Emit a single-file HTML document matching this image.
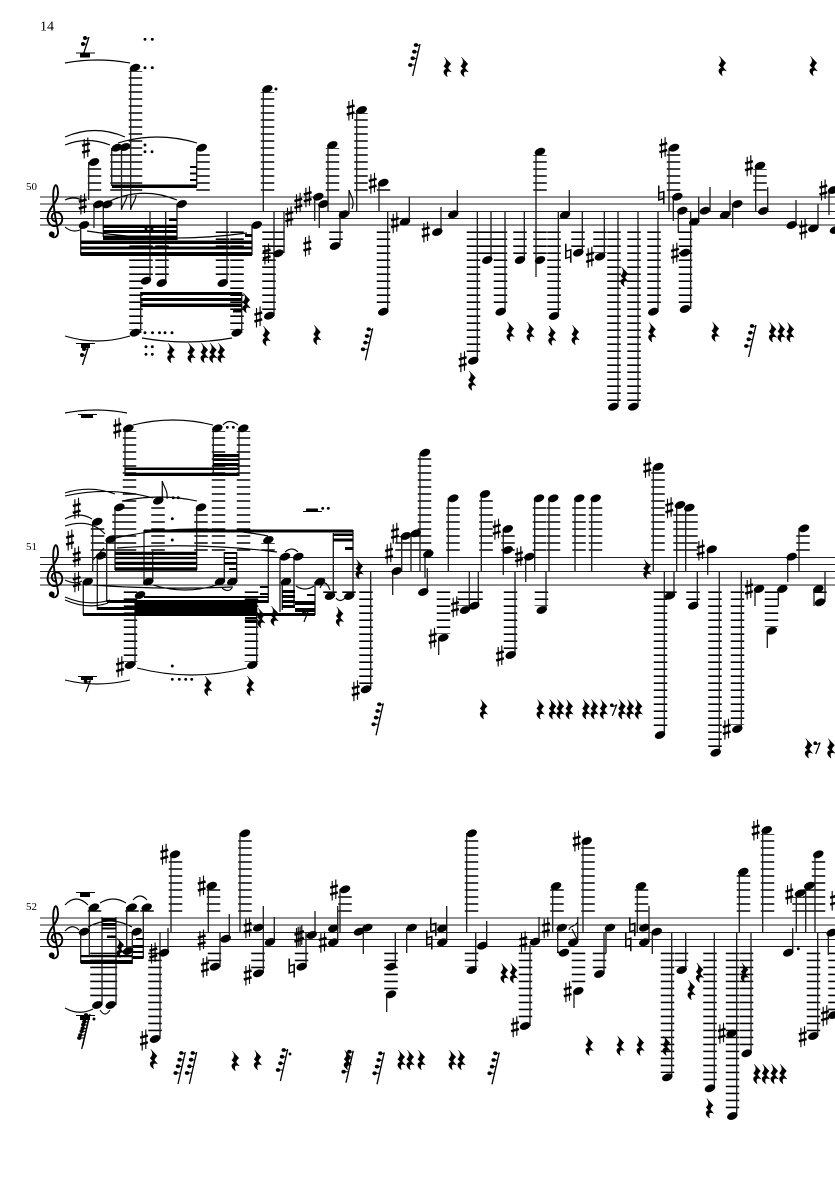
<!DOCTYPE html>
<html><head><meta charset="utf-8"><style>
html,body{margin:0;padding:0;background:#fff}
svg{display:block}
.st{stroke:#222;stroke-width:1.1;fill:none}
.s{stroke:#222;stroke-width:1.35;fill:none}
.l{stroke:#000;stroke-width:13.5;stroke-dasharray:1.6 5.4;fill:none}
.c{stroke:#000;stroke-width:1.15;fill:none}
.b{fill:#000}
.t{font-family:"Liberation Serif",serif;fill:#000}
</style></head><body>
<svg width="835" height="1181" viewBox="0 0 835 1181" xmlns="http://www.w3.org/2000/svg">
<defs>
<ellipse id="n" rx="5.5" ry="3.6" transform="rotate(-22)"/>
<g id="h"><path d="M-1.800 -9V10.500M1.800 -10.500V9" stroke="#000" stroke-width="1.15"/><path d="M-3.900 -2.300L3.900 -4.500M-3.900 4.500L3.900 2.300" stroke="#000" stroke-width="2.5"/></g>
<path id="a" d="M-2.500 -9.500V5L2.500 3.500V-3.500L-2.500 -2M2.500 9.500V-4" stroke="#000" stroke-width="1.5" fill="none"/>
<path id="r" d="M-2.500 -9.800L3.800 -3C1.800 -1 .8 .5 1.300 1.500L4.300 5C1 3.500 -1.500 4.300 .3 9.800C-4.200 6.800 -4.200 2.500 -.5 2.200L-3.200 -1C-1 -3 .5 -5.500 -2.500 -9.800Z" stroke="#000" stroke-width=".5"/>
<g id="q"><path d="M6 -16L-1.300 16" stroke="#000" stroke-width="1.3"/><path d="M2 -15L5.500 -14.500M.3 -8.300L4 -8M-1.300 -1.700L2.500 -1.500M-3.700 5L1 5" stroke="#000" stroke-width="1"/><ellipse cx="2" cy="-15" rx="2.200" ry="1.900"/><ellipse cx=".3" cy="-8.300" rx="2.200" ry="1.900"/><ellipse cx="-1.300" cy="-1.700" rx="2.200" ry="1.900"/><ellipse cx="-3.700" cy="5" rx="2.200" ry="1.900"/></g>
<g id="e"><path d="M3.500 -4.500L-1 7" stroke="#000" stroke-width="1.2"/><circle cx="-1.500" cy="-3.800" r="1.800"/><path d="M-2 -3Q1 -2 3.500 -4.500" stroke="#000" stroke-width="1.1" fill="none"/></g>
<g id="w"><path d="M4 -8L-1.500 9" stroke="#000" stroke-width="1.300"/><circle cx="0" cy="-7" r="2"/><circle cx="-2" cy="-1" r="2"/><path d="M0 -6.500L3.500 -7M-2 -.5L1.500 -1" stroke="#000" stroke-width="1"/></g>
<circle id="d" r="1.450"/>
<g id="c"><path d="M1 3.500C-3.500 3 -4.500 -4.500 1 -5.500C6.500 -6.500 8.500 -1 7.500 3C6 8.500 -1.500 9.500 -4.800 6C-8.500 2 -7 -4.500 -3 -10.500C0 -15 4.500 -20 3.300 -28C2.800 -33 .8 -34.500 -.3 -30.500C-2.500 -24 -1 -12 1 0L3.500 13C4 19 -.5 20.500 -2.500 18.500" stroke="#000" stroke-width="1.9" fill="none"/><circle cx="-2.800" cy="16.300" r="2.900"/></g>
</defs>

<text class="t" x="40" y="30.500" font-size="14">14</text>
<text class="t" x="26" y="190" font-size="11">50</text>
<text class="t" x="26" y="550" font-size="11">51</text>
<text class="t" x="26" y="910" font-size="11">52</text>

<path class="st" d="M40 197H835M40 204H835M40 211.500H835M40 218.500H835M40 225H835M40 557.500H835M40 564.500H835M40 571.500H835M40 578H835M40 585H835M40 918H835M40 925H835M40 932.500H835M40 939.500H835M40 946.500H835"/>
<use href="#c" x="54.500" y="218"/><use href="#c" x="54.500" y="578"/><use href="#c" x="54.500" y="939"/>

<!-- ledger lines -->
<path class="l" d="M135.500 190.800V71M94.500 190.800V165M117 190.800V150M126 190.800V150M203 190.800V150M267.500 190.800V92M332.500 190.800V148M361 190.800V113M383.500 190.800V187M540 190.800V155M673.500 190.800V150M760 190.800V169
M136 231.400V330M146 231.400V277M162 231.400V279M222.500 231.400V279M237 231.400V330M278 231.400V250M269 231.400V312M336 231.400V243M383.500 231.400V308M473.500 231.400V357M487 231.400V256M500.500 231.400V308M520 231.400V256M540 231.400V257M554 231.400V312M578 231.400V250M600 231.400V253M614 231.400V403M634 231.400V403M654 231.400V308M685.500 231.400V305"/>
<path class="l" d="M129.500 550.800V431M158 550.800V503M119 550.800V510M201 550.800V510M218.500 550.800V431M243.500 550.800V431M97.500 550.800V525M110 550.800V543M268 550.800V543M402 550.800V536M414 550.800V536M424.500 550.800V456M453 550.800V502M486 550.800V498M508 550.800V532M539.500 550.800V502M553.500 550.800V502M579 550.800V502M595.500 550.800V502M658 550.800V470M680 550.800V509M691 550.800V511M803 550.800V532
M130.500 591.400V662M251.500 591.400V662M330 591.400V594M349 591.400V594M366 591.400V686M443.500 591.400V634M464.500 591.400V606M476 591.400V602M510.500 591.400V652M541.500 591.400V606M660.500 591.400V731M670 591.400V594M693 591.400V602M715 591.400V749M737.500 591.400V725M771.500 591.400V627M820 591.400V594"/>
<path class="l" d="M94.500 911.800V908M132 911.800V908M147 911.800V908M175.500 911.800V857M213.500 911.800V889M245 911.800V837M345 911.800V893M471.500 911.800V837M557 911.800V889M588 911.800V845M641.500 911.800V889M743.500 911.800V875M767.500 911.800V834M799 911.800V897M809.500 911.800V889M818.500 911.800V857
M97 952.600V1001M110.500 952.600V1001M155 952.600V1035M214.500 952.600V963M258 952.600V970M301.500 952.600V963M391 952.600V990M471.500 952.600V967M525.500 952.600V1022M578.500 952.600V987M599.500 952.600V970M667.500 952.600V1073M681.500 952.600V967M710 952.600V1085M732.500 952.600V1112M746.500 952.600V1050M813.500 952.600V1032M835 952.600V1011"/>

<!-- stems -->
<path class="s" d="M88.700 162V200M80.700 225V255M94 204V228M103.300 204V237M111.700 148V186M121.500 147V210M130.700 68V210M196.700 148V186M177 204V240M252 225V255M150 281V211M165.700 283V211M227 283V211M140.700 333V292M241.700 333V292M263.300 89V211M284 253V211M274 316V211M314.700 197V221M319.300 204V228M328 145V211M340 246V211M349 214V190M356.700 110V211M379 183V211M387.700 312V211M409.300 222V197M441 232V207M457.300 214V190M477.300 361V211M491 260V211M505 312V211M524.300 260V211M536 152V277M558.300 316V211M569.300 215V190M582.300 253V211M604.300 257V211M618 407V211M638 407V211M658 312V211M669 148V211M673.300 197V221M678.300 211V233M698.700 222V197M690.700 309V211M710 211V187M730 215V190M732.700 204V228M755.700 166V211M767.700 211V187M796 225V200M818 228V204M829 190V215"/>
<path class="s" d="M125 428V476M213.300 428V476M239 428V476M162.300 500V481M115 507V570M196.700 507V570M92.700 522V572M106.700 539V602M97.300 556V610M83.300 582V615M144 530V582M152.700 582V551M224.300 582V552M236.700 582V552M135 665V603M256.700 665V603M268.300 540V603M280 557V612M294 557V605M282.300 582V610M315 582V615M333.300 596V533M353 596V530M370.700 689V571M392.700 571V595M401.700 536V571M411 533V571M420 453V571M425 554V578M427.300 592V568M448.300 498V571M438.700 638V655M469.300 610V571M478.300 606V571M481.300 494V571M503.300 529V575M515 655V571M525.700 557V582M534.700 498V571M549 498V571M546 610V571M575 498V571M591.700 498V571M653.300 467V571M664.300 735V571M674 596V571M676.700 505V571M685.700 508V571M697.300 606V571M707.700 549V575M719.300 753V571M741.300 729V571M755 589V606M778.300 589V606M767.300 631V648M787.700 557V582M799 528V571M814 589V606M825 602V572"/>
<path class="s" d="M89.300 907V955M80.700 932V963M126.700 907V955M143.300 907V958M132.300 932V964M102 1005V917M116 1005V917M168 953V928M160 1039V932M171 854V932M208.300 886V932M220 967V932M229.300 939V914M240 833V932M263.300 973V906M274.300 942V917M306 967V932M315 935V911M337.700 942V906M340 889V932M363.300 928V954M395.300 967V932M386.700 994V1012M406.700 928V953M446.700 942V906M466.700 833V932M486.700 946V921M475.700 970V932M539 942V917M530 1026V945M552.700 886V932M557.700 928V953M577.700 942V917M574 991V1008M583 841V932M604 974V932M606 928V953M637.300 886V932M649 942V906M652.300 932V954M671.700 1077V932M685.700 970V932M714.300 1088V932M736.700 1116V932M739.300 872V932M751 1053V932M762.700 830V932M792.700 953V928M796.300 893V932M805.700 886V932M815 854V932M817.700 1036V932M828.300 933V955"/>

<!-- beams -->
<path class="b" d="M112 184.500H197V188H112ZM190 166H197V168H190ZM190 172.500H197V174.500H190ZM190 179H197V181H190ZM103 225H177V228H103ZM103 230H177V233H103ZM103 235.500H177V240H103ZM169 218.500H177V221H169ZM80.700 240.500H252V244H80.700ZM80.700 246.500H252V249.500H80.700ZM80.700 252H252V256H80.700ZM245 234H252V237H245ZM140.700 292H241.700V295H140.700ZM140.700 298H241.700V301H140.700ZM140.700 303.500H241.700V307H140.700ZM233 309H241.700V312.500H233Z"/>
<path class="b" d="M125 467.500H239V470H125ZM125 472.700H239V476H125ZM213 454H239V457H213ZM213 458.500H239V461H213ZM213 463H239V466H213ZM115 551.700H197V555H115ZM115 556.700H197V559.300H115ZM115 561.700H197V565H115ZM115 567.300H197V570.700H115ZM144 529.500H353V532.500H144ZM333 533.500H353V536H333ZM333 538.500H353V541.500H333ZM345 547H353V550H345ZM224 552H237V554H224ZM224 557H237V559H224ZM224 562H237V564H224ZM229 568H237V570H229ZM83 613H315V616H83ZM135 603H257V613H135ZM97 607H135V610H97ZM107 600H268V603H107ZM144 596H268V598H144ZM260 586H268V588H260ZM260 593H268V595H260ZM245 617H257V619H245ZM245 621H257V623H245ZM282 590H295V593H282ZM282 595H295V598H282ZM282 600H295V603H282ZM282 605H295V608H282ZM295 601H315V605H295ZM295 608H315V612H295ZM307 594H315V596H307Z"/>
<path class="b" d="M80.700 955H132.300V957.300H80.700ZM80.700 960H132.300V964H80.700ZM102 918H116V921H102ZM102 923H116V926H102ZM102 927.500H116V929.500H102ZM107 935.500H116V938H107ZM133 945H143.500V948H133ZM133 951H143.500V953H133ZM133 956H143.500V959H133ZM136 938H143.500V940H136ZM557.700 951L564 954L564 956L557.700 953Z"/>

<!-- flags -->
<path class="c" d="M121.500 209C124 202 127 200 127 195M130.700 209C133 202 136 200 136 195M349 190C351 197 355 200 352 209M162.300 481C164 488 168 490 167 499M577.700 922C574 928 570 925 569 930"/>
<path class="c" d="M93 560L104 548M572 929L578 941"/>

<!-- slurs -->
<path class="c" d="M65 63Q97 57 130 63M65 137Q95 124 125 137M65 145Q87 136 110 145M118 143Q157 131 197 143M65 200Q73 196 82 200M65 227Q72 233 80 230M87 231Q167 244 247 233M110 201Q143 186 177 200M65 336Q97 346 130 336M142 338Q187 346 232 338"/>
<path class="c" d="M65 413Q96 407 127 413M133 425Q173 415 213 425M223 425Q229 418 238 425M122 501Q160 493 197 501M117 548Q197 542 277 552M65 496Q110 486 153 498M65 493Q90 485 115 494M65 519Q79 511 92 519M65 526Q90 518 105 534M65 580Q75 585 82 581M65 597Q88 607 110 600M65 600Q88 610 108 603M107 540Q187 520 268 536M285 552Q292 546 298 552M320 588Q325 577 330 590M153 585Q185 595 217 585M222 588Q228 593 232 588M137 668Q192 682 247 668M65 680Q97 688 130 680M296 586Q305 592 314 586M336 598Q340 603 345 598M93 585Q160 590 233 587"/>
<path class="c" d="M65 905Q76 893 88 905M100 903Q113 895 126 903M133 900Q140 892 147 900M65 931Q72 923 79 930M88 927Q110 915 132 927M65 1008Q79 1016 93 1009M100 1010Q105 1018 110 1010"/>

<!-- rests whole/half -->
<path class="b" d="M76 52.500H95V53.500H76ZM80 53.500H90V57.500H80ZM76 343H95V344H76ZM81 344H90V348H81ZM78 414H97V415H78ZM81 415H93V418H81ZM78 676H97V677H78ZM81 677H93V680H81ZM303 511H322V512H303ZM306 508.500H318V511H306ZM76 892H95V893H76ZM80 893H90V897H80ZM76 1015H95V1016H76ZM80 1016H90V1020H80Z"/>
<use href="#w" x="85" y="45"/><use href="#w" x="84" y="356"/><use href="#e" x="87" y="685"/><use href="#q" x="83" y="1033"/><use href="#q" x="84" y="1030"/>

<!-- staff 1 noteheads -->
<use href="#n" x="135" y="67.700"/><use href="#n" x="116.700" y="147.700"/><use href="#n" x="125" y="147"/><use href="#n" x="201.700" y="147.700"/><use href="#n" x="94" y="162"/><use href="#n" x="98.300" y="204.300"/><use href="#n" x="107.300" y="204.300"/><use href="#n" x="84" y="225"/><use href="#n" x="181.700" y="204"/><use href="#n" x="256.700" y="225"/><use href="#n" x="146" y="280.700"/><use href="#n" x="161.700" y="283"/><use href="#n" x="222.700" y="283"/><use href="#n" x="135" y="332.700"/><use href="#n" x="236.700" y="332.700"/><use href="#n" x="267.300" y="89"/><use href="#n" x="278.300" y="253.300"/><use href="#n" x="269.300" y="315.700"/><use href="#n" x="318.300" y="196.700"/><use href="#n" x="323.300" y="204"/><use href="#n" x="332.300" y="145"/><use href="#n" x="335" y="246"/><use href="#n" x="344" y="214.300"/><use href="#n" x="361.700" y="110"/><use href="#n" x="383.300" y="182.700"/><use href="#n" x="383.300" y="311.700"/><use href="#n" x="405" y="221.700"/><use href="#n" x="437.300" y="232"/><use href="#n" x="453.300" y="214.300"/><use href="#n" x="473.300" y="360.700"/><use href="#n" x="487.300" y="260"/><use href="#n" x="500.700" y="311.700"/><use href="#n" x="520" y="260"/><use href="#n" x="540" y="151.700"/><use href="#n" x="540" y="260"/><use href="#n" x="554" y="316"/><use href="#n" x="565" y="215"/><use href="#n" x="578.300" y="252.700"/><use href="#n" x="600" y="256.700"/><use href="#n" x="613.300" y="406.700"/><use href="#n" x="633.300" y="406.700"/><use href="#n" x="653.300" y="311.700"/><use href="#n" x="674" y="147.700"/><use href="#n" x="677.300" y="196.700"/><use href="#n" x="682.300" y="210.700"/><use href="#n" x="694.300" y="221.700"/><use href="#n" x="685" y="252.700"/><use href="#n" x="685" y="309"/><use href="#n" x="705" y="210.700"/><use href="#n" x="725" y="215"/><use href="#n" x="737.300" y="204"/><use href="#n" x="760" y="165.700"/><use href="#n" x="763.300" y="211"/><use href="#n" x="791.700" y="225"/><use href="#n" x="813.300" y="228.300"/><use href="#n" x="833" y="190"/><use href="#n" x="835" y="230"/>

<!-- staff 1 accidentals -->
<use href="#h" x="86" y="148"/><use href="#h" x="82.700" y="204"/><use href="#h" x="266.700" y="254"/><use href="#h" x="258.300" y="317"/><use href="#h" x="289.300" y="216.700"/><use href="#h" x="298.300" y="203.300"/><use href="#h" x="307.700" y="196.700"/><use href="#h" x="307.300" y="246"/><use href="#h" x="350.700" y="110"/><use href="#h" x="372.700" y="183.300"/><use href="#h" x="395" y="222.700"/><use href="#h" x="425.700" y="232"/><use href="#h" x="462.700" y="361.700"/><use href="#a" x="568.300" y="253.300"/><use href="#h" x="590" y="257.300"/><use href="#h" x="663.300" y="147.700"/><use href="#a" x="661.300" y="195"/><use href="#h" x="675" y="253.300"/><use href="#h" x="749" y="165.700"/><use href="#h" x="803.300" y="229.300"/><use href="#h" x="823.300" y="190"/>

<!-- staff 1 rests, dots -->
<use href="#r" x="246" y="303"/><use href="#r" x="266" y="336"/><use href="#r" x="170.700" y="353"/><use href="#r" x="191" y="353"/><use href="#r" x="204" y="353"/><use href="#r" x="212.700" y="353"/><use href="#r" x="221" y="353"/><use href="#r" x="316.700" y="335"/><use href="#q" x="366.700" y="344.300"/><use href="#r" x="471.700" y="380.700"/><use href="#r" x="510" y="331.700"/><use href="#r" x="530" y="332"/><use href="#r" x="551.700" y="335.700"/><use href="#r" x="575" y="335"/><use href="#r" x="624" y="276.700"/><use href="#r" x="651.700" y="332.300"/><use href="#r" x="715" y="331.700"/><use href="#q" x="750" y="341"/><use href="#r" x="772.300" y="332.300"/><use href="#r" x="781" y="332.300"/><use href="#r" x="790" y="332.300"/><use href="#q" x="414" y="60"/><use href="#r" x="447" y="67"/><use href="#r" x="464" y="67"/><use href="#r" x="722" y="66"/><use href="#r" x="813" y="66"/>
<use href="#d" x="145" y="39.300"/><use href="#d" x="152.300" y="39.300"/><use href="#d" x="145" y="67.700"/><use href="#d" x="152.300" y="67.700"/><use href="#d" x="145" y="145"/><use href="#d" x="145" y="151.700"/><use href="#d" x="152" y="151.700"/><use href="#d" x="146" y="229"/><use href="#d" x="152" y="229"/><use href="#d" x="145" y="332.700"/><use href="#d" x="152.500" y="332.700"/><use href="#d" x="159.500" y="332.700"/><use href="#d" x="165" y="332.700"/><use href="#d" x="172" y="332.700"/><use href="#d" x="146" y="346.700"/><use href="#d" x="152.300" y="346.700"/><use href="#d" x="146" y="354.300"/><use href="#d" x="152.300" y="354.300"/><use href="#d" x="276" y="89"/>

<!-- staff 2 noteheads -->
<use href="#n" x="128.300" y="428.300"/><use href="#n" x="217.300" y="428.300"/><use href="#n" x="243.300" y="428.300"/><use href="#n" x="158.300" y="500.700"/><use href="#n" x="119.300" y="507.300"/><use href="#n" x="201" y="507.300"/><use href="#n" x="97.300" y="521.700"/><use href="#n" x="110.700" y="539.300"/><use href="#n" x="101" y="555.700"/><use href="#n" x="87.700" y="581.700"/><use href="#n" x="148.300" y="581.700"/><use href="#n" x="220" y="581.700"/><use href="#n" x="232.300" y="581.700"/><use href="#n" x="140" y="595"/><use href="#n" x="130" y="665"/><use href="#n" x="252.300" y="665"/><use href="#n" x="268.300" y="540"/><use href="#n" x="285" y="556.700"/><use href="#n" x="298.300" y="556.700"/><use href="#n" x="286" y="581.700"/><use href="#n" x="320" y="581.700"/><use href="#n" x="330" y="596"/><use href="#n" x="349.300" y="596"/><use href="#n" x="366" y="689.300"/><use href="#n" x="396.700" y="571"/><use href="#n" x="405.700" y="536"/><use href="#n" x="415.700" y="533.300"/><use href="#n" x="425" y="452.700"/><use href="#n" x="428.300" y="554"/><use href="#n" x="423.300" y="592"/><use href="#n" x="453.300" y="498.300"/><use href="#n" x="443.300" y="637.700"/><use href="#n" x="465" y="610"/><use href="#n" x="474.300" y="605.700"/><use href="#n" x="485" y="494"/><use href="#n" x="507.700" y="529"/><use href="#n" x="507.700" y="550"/><use href="#n" x="510.700" y="655"/><use href="#n" x="529.300" y="556.700"/><use href="#n" x="539" y="498.300"/><use href="#n" x="553.300" y="498.300"/><use href="#n" x="541.700" y="610"/><use href="#n" x="579.300" y="498.300"/><use href="#n" x="595.700" y="498.300"/><use href="#n" x="658.300" y="466.700"/><use href="#n" x="660" y="735"/><use href="#n" x="670" y="595.700"/><use href="#n" x="680" y="505"/><use href="#n" x="689.300" y="507.700"/><use href="#n" x="693.300" y="605.700"/><use href="#n" x="711.700" y="549.300"/><use href="#n" x="715.700" y="752.700"/><use href="#n" x="737.300" y="729"/><use href="#n" x="759" y="589"/><use href="#n" x="782.300" y="589"/><use href="#n" x="771.700" y="630.700"/><use href="#n" x="791.700" y="556.700"/><use href="#n" x="804" y="528.300"/><use href="#n" x="818.300" y="589"/><use href="#n" x="820" y="602.300"/>

<!-- staff 2 accidentals -->
<use href="#h" x="117.300" y="428.300"/><use href="#h" x="76.700" y="508.300"/><use href="#h" x="70" y="540"/><use href="#h" x="76.700" y="556.700"/><use href="#h" x="76.700" y="581.700"/><use href="#h" x="120" y="666.700"/><use href="#h" x="355.700" y="690.700"/><use href="#h" x="389" y="553.300"/><use href="#h" x="395" y="533.300"/><use href="#h" x="432.700" y="638.300"/><use href="#h" x="455" y="606.700"/><use href="#h" x="496.700" y="529.300"/><use href="#h" x="500" y="656"/><use href="#h" x="519" y="556.700"/><use href="#h" x="647.300" y="467.300"/><use href="#h" x="669.300" y="507.700"/><use href="#h" x="700.700" y="550"/><use href="#h" x="726.700" y="729.300"/><use href="#h" x="749" y="589"/>

<!-- staff 2 rests, dots -->
<use href="#r" x="207.700" y="686"/><use href="#r" x="250" y="686"/><use href="#r" x="260.700" y="618"/><use href="#r" x="274" y="616"/><use href="#e" x="305" y="615"/><use href="#r" x="339.300" y="616.700"/><use href="#r" x="359" y="569.300"/><use href="#q" x="377.300" y="719.300"/><use href="#r" x="646.700" y="569.300"/><use href="#r" x="483.300" y="709.300"/><use href="#r" x="540" y="709.300"/><use href="#r" x="552.300" y="709.300"/><use href="#r" x="560" y="709.300"/><use href="#r" x="569" y="709.300"/><use href="#r" x="585.700" y="709.300"/><use href="#r" x="594" y="709.300"/><use href="#r" x="603.300" y="709.300"/><use href="#e" x="613.300" y="709"/><use href="#r" x="621.700" y="709.300"/><use href="#r" x="630" y="709.300"/><use href="#r" x="638.300" y="709.300"/><use href="#r" x="808.300" y="748.300"/><use href="#e" x="816.700" y="747"/><use href="#r" x="830.700" y="748.300"/>
<use href="#d" x="227.300" y="427.300"/><use href="#d" x="233.300" y="427.300"/><use href="#d" x="173.300" y="497.700"/><use href="#d" x="178.300" y="497.700"/><use href="#d" x="172.300" y="518.700"/><use href="#d" x="172.300" y="540"/><use href="#d" x="172.300" y="666"/><use href="#d" x="172.300" y="679.300"/><use href="#d" x="179.300" y="679.300"/><use href="#d" x="185.700" y="679.300"/><use href="#d" x="191.700" y="679.300"/><use href="#d" x="322.700" y="508.300"/><use href="#d" x="328.300" y="508.300"/>

<!-- staff 3 noteheads -->
<use href="#n" x="94" y="907.300"/><use href="#n" x="84" y="931.700"/><use href="#n" x="131.700" y="907.300"/><use href="#n" x="146.700" y="907.300"/><use href="#n" x="136.700" y="931.700"/><use href="#n" x="97.300" y="1005"/><use href="#n" x="110.700" y="1005"/><use href="#n" x="128" y="951"/><use href="#n" x="164" y="952.700"/><use href="#n" x="155" y="1039"/><use href="#n" x="175" y="854.300"/><use href="#n" x="211.700" y="885.700"/><use href="#n" x="215" y="966.700"/><use href="#n" x="225.700" y="938.700"/><use href="#n" x="245" y="833.300"/><use href="#n" x="258.300" y="973.300"/><use href="#n" x="258.300" y="927.700"/><use href="#n" x="270" y="942"/><use href="#n" x="301.700" y="966.700"/><use href="#n" x="311.700" y="935"/><use href="#n" x="333.300" y="928.300"/><use href="#n" x="333.300" y="942.300"/><use href="#n" x="345" y="889.300"/><use href="#n" x="359" y="931.700"/><use href="#n" x="367.300" y="927.700"/><use href="#n" x="391" y="966.700"/><use href="#n" x="391" y="994.300"/><use href="#n" x="411.700" y="927.700"/><use href="#n" x="442.300" y="928.300"/><use href="#n" x="442.300" y="942.300"/><use href="#n" x="471.700" y="833.300"/><use href="#n" x="482.300" y="945.700"/><use href="#n" x="471.700" y="970"/><use href="#n" x="535" y="941.700"/><use href="#n" x="525" y="1026"/><use href="#n" x="556" y="886"/><use href="#n" x="561.700" y="927.700"/><use href="#n" x="564" y="952.700"/><use href="#n" x="573.300" y="942.300"/><use href="#n" x="578.300" y="991"/><use href="#n" x="586.700" y="841"/><use href="#n" x="599.300" y="974"/><use href="#n" x="610" y="927.700"/><use href="#n" x="641" y="886"/><use href="#n" x="644.300" y="927.700"/><use href="#n" x="644.300" y="942.300"/><use href="#n" x="656.700" y="931.700"/><use href="#n" x="667.300" y="1077.300"/><use href="#n" x="681.700" y="970"/><use href="#n" x="710" y="1088.300"/><use href="#n" x="731.700" y="1033.300"/><use href="#n" x="732.300" y="1116"/><use href="#n" x="743.300" y="871.700"/><use href="#n" x="746.700" y="1053.300"/><use href="#n" x="766.700" y="830"/><use href="#n" x="788.300" y="952.700"/><use href="#n" x="800" y="893.300"/><use href="#n" x="809.300" y="885.700"/><use href="#n" x="818.300" y="854.300"/><use href="#n" x="813.300" y="1036"/><use href="#n" x="833.300" y="1015"/><use href="#n" x="831.700" y="932.700"/>

<!-- staff 3 accidentals -->
<use href="#h" x="153.300" y="953"/><use href="#h" x="144" y="1040"/><use href="#h" x="164.300" y="854.300"/><use href="#h" x="201.700" y="886"/><use href="#h" x="205" y="967"/><use href="#h" x="201.700" y="940"/><use href="#h" x="247.700" y="975"/><use href="#h" x="247.700" y="927.700"/><use href="#h" x="298.300" y="937"/><use href="#a" x="291.700" y="968"/><use href="#h" x="300" y="935.700"/><use href="#h" x="322.700" y="942.300"/><use href="#h" x="334" y="890"/><use href="#a" x="433.300" y="926.700"/><use href="#a" x="429.300" y="940"/><use href="#h" x="523.300" y="941.700"/><use href="#h" x="515" y="1026.700"/><use href="#h" x="546" y="927.700"/><use href="#h" x="567.700" y="991.700"/><use href="#h" x="576.700" y="841"/><use href="#a" x="632.300" y="926.700"/><use href="#a" x="628.300" y="941.700"/><use href="#h" x="721.700" y="1033.300"/><use href="#h" x="755.700" y="830"/><use href="#h" x="789.300" y="894"/><use href="#h" x="802.700" y="1036.700"/><use href="#h" x="825" y="1015.700"/><use href="#h" x="834" y="900"/>

<!-- staff 3 rests, dots -->
<use href="#r" x="120" y="948"/><use href="#r" x="153.300" y="1059"/><use href="#q" x="179.300" y="1068"/><use href="#q" x="190.700" y="1068"/><use href="#r" x="235" y="1061"/><use href="#r" x="257.300" y="1060"/><use href="#q" x="281.700" y="1065"/><use href="#q" x="347.300" y="1066.700"/><use href="#r" x="347.300" y="1060"/><use href="#q" x="378.300" y="1068.300"/><use href="#r" x="401" y="1060"/><use href="#r" x="410" y="1060"/><use href="#r" x="421" y="1060"/><use href="#r" x="452" y="1060"/><use href="#r" x="461" y="1060"/><use href="#q" x="493.300" y="1068.300"/><use href="#r" x="504" y="973.300"/><use href="#r" x="513.300" y="973.300"/><use href="#r" x="589" y="1045.700"/><use href="#r" x="620" y="1045.700"/><use href="#r" x="640" y="1045.700"/><use href="#r" x="666" y="1045.700"/><use href="#r" x="699.300" y="972.700"/><use href="#r" x="691" y="990"/><use href="#r" x="709.300" y="1108.300"/><use href="#r" x="744.300" y="972.700"/><use href="#r" x="756.700" y="1074"/><use href="#r" x="765.300" y="1074"/><use href="#r" x="774" y="1074"/><use href="#r" x="782.700" y="1074"/>
<use href="#d" x="94" y="1019"/><use href="#d" x="290" y="1054"/><use href="#d" x="798.300" y="948.700"/>
</svg>
</body></html>
